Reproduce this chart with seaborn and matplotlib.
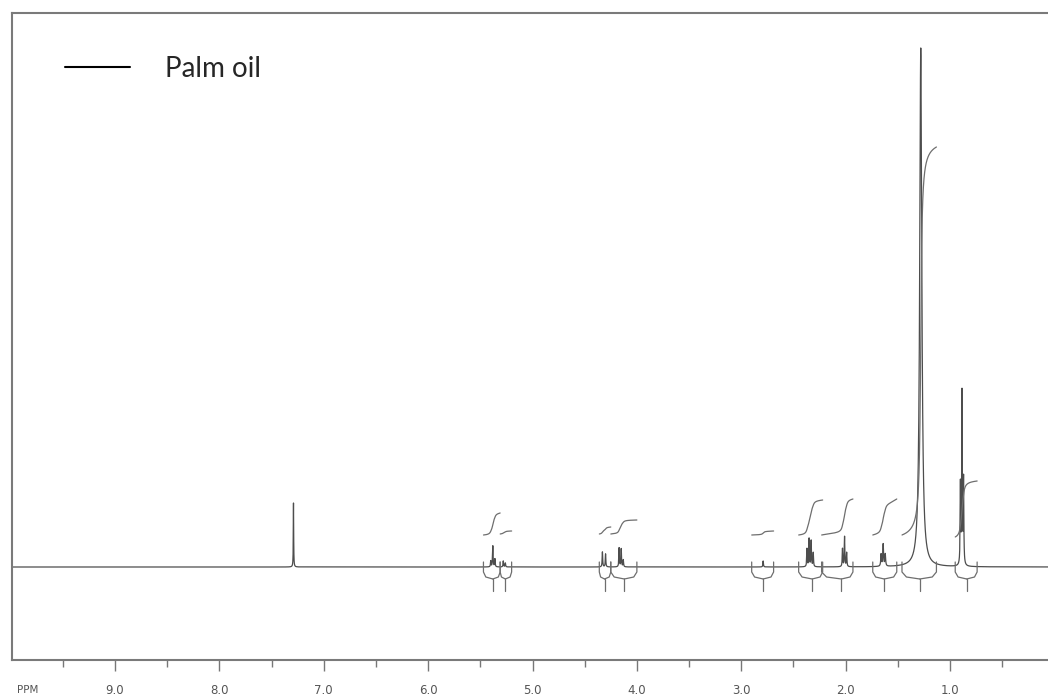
import numpy as np
import pandas as pd
import matplotlib
matplotlib.use("Agg")
import matplotlib.pyplot as plt
import seaborn as sns
from matplotlib.lines import Line2D

# -----------------------------
# Data
# -----------------------------
# peak positions (ppm), heights (baseline = 0) and half widths (ppm)
peak_ppm = [7.29, 5.40, 5.38, 5.36, 5.28, 5.26, 4.33, 4.30, 4.17, 4.15, 4.13,
            2.79, 2.37, 2.35, 2.33, 2.31, 2.03, 2.01, 1.99, 1.66, 1.64, 1.62,
            1.28, 0.90, 0.885, 0.87]
peak_height = [64, 6, 21, 8, 6, 4, 15, 13, 19, 18, 7,
               6, 18, 28, 26, 14, 18, 30, 14, 12, 22, 12,
               519, 80, 172, 85]
peak_hwhm = [0.002, 0.003, 0.003, 0.003, 0.003, 0.003, 0.003, 0.003, 0.003, 0.003, 0.003,
             0.003, 0.003, 0.003, 0.003, 0.003, 0.003, 0.003, 0.003, 0.004, 0.004, 0.004,
             0.012, 0.003, 0.003, 0.003]

# integration regions (ppm), bracket centres and integral trace levels
region_start = [5.47, 5.31, 4.36, 4.25, 2.90, 2.45, 2.23, 1.74, 1.46, 0.95]
region_end = [5.31, 5.20, 4.25, 4.00, 2.69, 2.22, 1.93, 1.51, 1.13, 0.74]
region_center = [5.38, 5.26, 4.31, 4.12, 2.79, 2.32, 2.04, 1.63, 1.29, 0.84]
integral_base = [32, 33, 33, 33, 32, 32, 32, 32, 32, 30]
integral_top = [54, 36, 40, 47, 36, 67, 68, 68, 420, 86]

major_ticks = [9.0, 8.0, 7.0, 6.0, 5.0, 4.0, 3.0, 2.0, 1.0]
tick_labels = ["9.0", "8.0", "7.0", "6.0", "5.0", "4.0", "3.0", "2.0", "1.0"]
legend_label = "Palm oil"

# -----------------------------
# Build spectrum (Lorentzian lines)
# -----------------------------
ppm = np.arange(0.06, 9.99, 0.0005)
intensity = np.zeros_like(ppm)
broad = np.zeros_like(ppm)
for p, h, w in zip(peak_ppm, peak_height, peak_hwhm):
    intensity += h / (1 + ((ppm - p) / w) ** 2)
    broad += h * w / (1 + ((ppm - p) / 0.01) ** 2)
spec = pd.DataFrame({"ppm": ppm, "intensity": intensity})

# -----------------------------
# Plot
# -----------------------------
sns.set_style("white")
fig = plt.figure(figsize=(10.48, 6.97), dpi=100)
ax = fig.add_axes([12 / 1048, 37 / 697, 1036 / 1048, 647 / 697])

sns.lineplot(data=spec, x="ppm", y="intensity", ax=ax, color="#4d4d4d",
             linewidth=0.9, estimator=None, sort=False)

line_col = "#6e6e6e"
for s, e, c, b, t in zip(region_start, region_end, region_center,
                         integral_base, integral_top):
    # integral trace
    m = (ppm <= s) & (ppm >= e)
    xs = ppm[m][::-1]
    cum = np.cumsum(broad[m][::-1])
    cum = cum / cum[-1]
    ax.plot(xs, b + (t - b) * cum, color=line_col, lw=0.9)
    # bracket below the baseline
    ax.plot([s, s, s - 0.25 * (s - c), c], [5, -5, -10, -12], color=line_col, lw=0.9)
    ax.plot([e, e, e + 0.25 * (c - e), c], [5, -5, -10, -12], color=line_col, lw=0.9)
    ax.plot([c, c], [-12, -24], color=line_col, lw=0.9)

ax.set_xlim(9.987, 0.061)
ax.set_ylim(-93, 554)
ax.set_xlabel("")
ax.set_ylabel("")
ax.set_yticks([])
ax.set_xticks(major_ticks)
ax.set_xticklabels(tick_labels)
ax.set_xticks(np.arange(0.5, 10.0, 1.0), minor=True)
ax.tick_params(axis="x", which="major", direction="out", length=8, width=1,
               color="#777777", labelsize=8.5, labelcolor="#555555", pad=9, bottom=True)
ax.tick_params(axis="x", which="minor", direction="out", length=5, width=1,
               color="#777777", bottom=True)

ax.spines["right"].set_visible(False)
for side in ["left", "top", "bottom"]:
    ax.spines[side].set_color("#7a7a7a")
    ax.spines[side].set_linewidth(1.5)

fig.text(28 / 1048, 1 - 690 / 697, "PPM", ha="center", va="center",
         fontsize=7.5, color="#555555")

handle = Line2D([], [], color="black", lw=1.5)
fig.legend([handle], [legend_label], loc="upper left",
           bbox_to_anchor=(65 / 1048, 1 - 56 / 697), frameon=False,
           borderpad=0, borderaxespad=0, handlelength=2.34, handletextpad=1.26,
           prop={"family": "Lato", "size": 20})

fig.savefig("out.png", dpi=100)
